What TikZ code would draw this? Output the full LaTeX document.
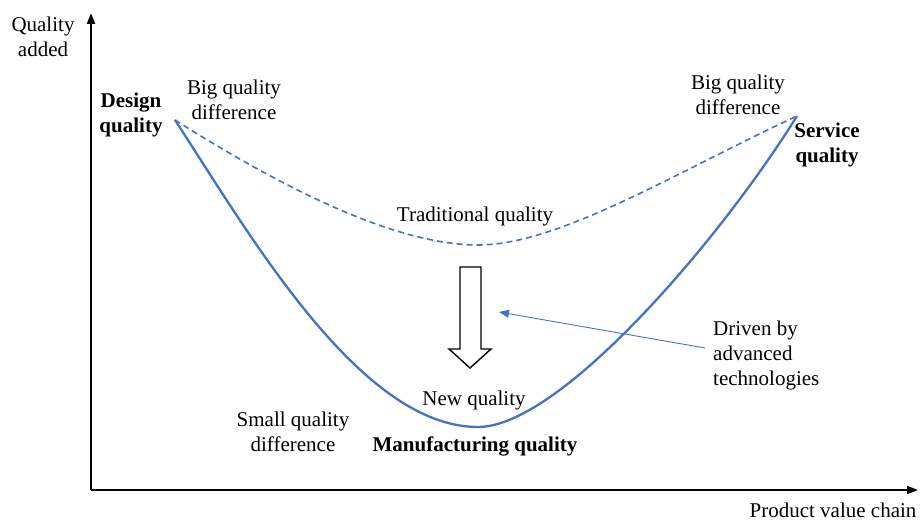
\documentclass[tikz,border=0pt]{standalone}
\usepackage{fontspec}
\setmainfont{Liberation Serif}
\usetikzlibrary{arrows.meta}
\definecolor{curveblue}{HTML}{4472C4}
\begin{document}
\begin{tikzpicture}[x=1pt,y=-1pt,
  lbl/.style={font=\fontsize{21}{25}\selectfont, align=center, inner sep=0pt},
  blbl/.style={lbl, font=\fontsize{21}{25}\selectfont\bfseries},
  axis/.style={line width=2.2pt, -{Triangle[length=11pt,width=8pt]}},
  newcurve/.style={curveblue, line width=2.3pt},
  oldcurve/.style={curveblue, line width=1.6pt, dash pattern=on 6pt off 4pt},
  pointer/.style={curveblue, line width=0.9pt, -{Triangle[length=10pt,width=8pt]}},
  blockarrow/.style={draw=black, fill=white, line width=1.4pt, line join=miter}]
\useasboundingbox (0,0) rectangle (920,521);

% axes
\coordinate (O) at (91,490);
\coordinate (ytop) at (91,13);
\coordinate (xend) at (918,490);
\draw[axis] (O) -- (ytop);
\draw[axis] (O) -- (xend);
\node[lbl] (yl) at (43,37) {Quality\\added};
\node[lbl] (xl) at (833,510) {Product value chain};

% curve end points and minima
\coordinate (dq) at (175,120);
\coordinate (sq) at (797,116);
\coordinate (oldmin) at (478,245);
\coordinate (newmin) at (478,427);

% traditional quality curve
\draw[oldcurve] (dq) .. controls (270,180) and (390,245) .. (oldmin)
  .. controls (560,245) and (680,170) .. (sq);
% new quality curve
\draw[newcurve] (dq) .. controls (250,235) and (360,427) .. (newmin)
  .. controls (560,427) and (720,240) .. (sq);

% shift from traditional to new quality
\draw[blockarrow] (460,267) -- (481,267) -- (481,349) -- (491,349) -- (470,368)
  -- (449,349) -- (460,349) -- cycle;

% labels
\node[blbl] (design) at (131,115) {Design\\quality};
\node[lbl] (bigl) at (234,100) {Big quality\\difference};
\node[lbl] (bigr) at (738,95) {Big quality\\difference};
\node[blbl] (service) at (827,145) {Service\\quality};
\node[lbl] (trad) at (475,216) {Traditional quality};
\node[lbl] (newq) at (474,400) {New quality};
\node[lbl] (small) at (293,432) {Small quality\\difference};
\node[blbl] (manu) at (475,446) {Manufacturing quality};
\node[lbl, align=left, anchor=west] (driven) at (713,355) {Driven by\\advanced\\technologies};

% pointer from the driver text to the block arrow
\coordinate (ptrstart) at (705,348);
\coordinate (ptrend) at (499,312);
\draw[pointer] (ptrstart) -- (ptrend);
\end{tikzpicture}
\end{document}
